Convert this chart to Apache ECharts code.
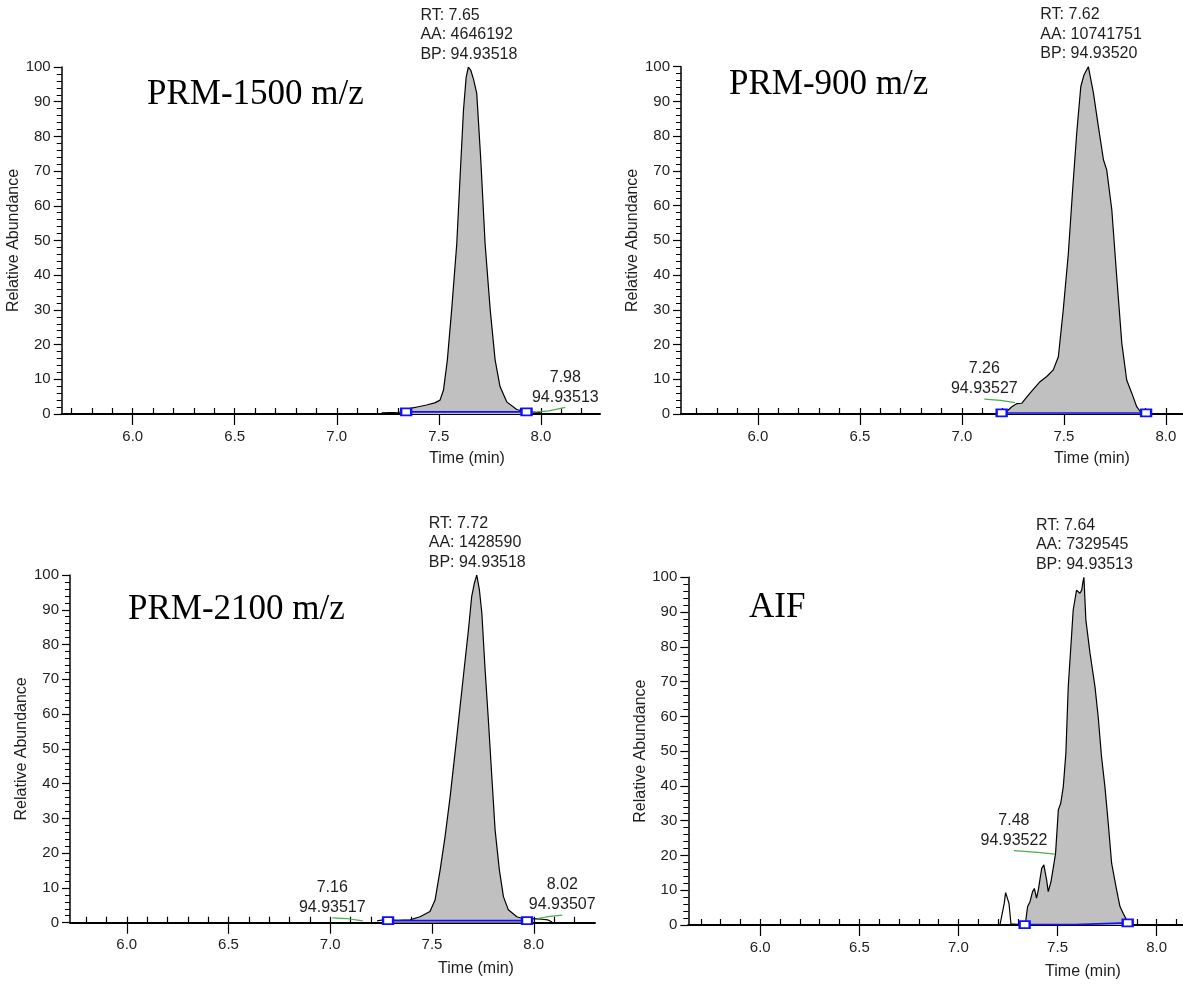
<!DOCTYPE html>
<html><head><meta charset="utf-8">
<script src="https://cdn.jsdelivr.net/npm/echarts@6/dist/echarts.min.js"></script>
<style>html,body{margin:0;padding:0;background:#fff}#c{width:1183px;height:986px}</style>
</head><body><div id="c"></div>
<script>
// ---------- tick labels ----------
const xTickLabels = [6.0, 6.5, 7.0, 7.5, 8.0];
const xMinorTicks = [5.7, 5.8, 5.9, 6.0, 6.1, 6.2, 6.3, 6.4, 6.5, 6.6, 6.7, 6.8, 6.9, 7.0, 7.1, 7.2, 7.3, 7.4, 7.5, 7.6, 7.7, 7.8, 7.9, 8.0, 8.1, 8.2];
const yAxisName = 'Relative Abundance';
const xAxisName = 'Time (min)';

// ---------- Panel 1: PRM-1500 m/z ----------
const p1Title = 'PRM-1500 m/z';
const p1Time  = [7.22, 7.26, 7.30, 7.335, 7.36, 7.40, 7.44, 7.48, 7.506, 7.523, 7.542, 7.563, 7.588, 7.604, 7.621, 7.634, 7.645, 7.657, 7.67, 7.686, 7.706, 7.727, 7.752, 7.776, 7.80, 7.833, 7.882, 7.923, 7.95, 7.98, 8.00];
const p1Abund = [0.3, 0.4, 0.5, 0.6, 1.6, 2.1, 2.6, 3.2, 4.0, 6.9, 15.6, 30, 49, 68, 87.6, 97, 100, 99, 96.5, 92.4, 73, 49, 30, 15.6, 7.9, 3.5, 1.3, 0.7, 0.6, 0.5, 0.3];
const p1PeakInfo = ['RT: 7.65', 'AA: 4646192', 'BP: 94.93518'];
const p1BaseTime  = [7.34, 7.93];
const p1BaseAbund = [0.6, 0.6];
const p1Flags = [
  { time: [7.98, 8.04, 8.12], abund: [0.6, 0.9, 1.9], labelAt: 2, text: ['7.98', '94.93513'] }
];

// ---------- Panel 2: PRM-900 m/z ----------
const p2Title = 'PRM-900 m/z';
const p2Time  = [7.20, 7.225, 7.245, 7.27, 7.294, 7.334, 7.383, 7.416, 7.448, 7.473, 7.497, 7.522, 7.544, 7.563, 7.583, 7.599, 7.62, 7.645, 7.669, 7.694, 7.71, 7.735, 7.759, 7.784, 7.808, 7.833, 7.857, 7.877, 7.895, 7.91];
const p2Abund = [0.3, 1.0, 2.1, 3.0, 3.1, 6.0, 9.3, 10.8, 12.7, 16.5, 30, 46.3, 65.5, 80.9, 94.3, 97.7, 100, 92.4, 82.8, 73.2, 70.3, 58.8, 39.6, 20.4, 9.8, 6.0, 2.1, 0.5, 0.3, 0.2];
const p2PeakInfo = ['RT: 7.62', 'AA: 10741751', 'BP: 94.93520'];
const p2BaseTime  = [7.195, 7.903];
const p2BaseAbund = [0.3, 0.3];
const p2Flags = [
  { time: [7.11, 7.19, 7.26], abund: [4.3, 3.9, 3.3], labelAt: 0, text: ['7.26', '94.93527'] }
];

// ---------- Panel 3: PRM-2100 m/z ----------
const p3Title = 'PRM-2100 m/z';
const p3Time  = [7.23, 7.26, 7.284, 7.33, 7.392, 7.441, 7.49, 7.515, 7.54, 7.564, 7.589, 7.622, 7.654, 7.679, 7.695, 7.708, 7.72, 7.733, 7.745, 7.761, 7.777, 7.794, 7.81, 7.831, 7.851, 7.875, 7.917, 7.957, 7.98, 8.04, 8.07, 8.09];
const p3Abund = [0.5, 0.8, 0.8, 0.7, 0.8, 1.7, 3.2, 6.5, 15.2, 24.7, 36.2, 53.5, 70.8, 84.2, 93.8, 97.6, 100, 95.7, 89, 72.7, 58.3, 42, 26.7, 15.2, 7.5, 3.7, 1.7, 1.0, 1.2, 1.0, 0.8, 0.2];
const p3PeakInfo = ['RT: 7.72', 'AA: 1428590', 'BP: 94.93518'];
const p3BaseTime  = [7.284, 7.967];
const p3BaseAbund = [0.6, 0.6];
const p3Flags = [
  { time: [7.01, 7.08, 7.16], abund: [1.4, 1.2, 0.5], labelAt: 0, text: ['7.16', '94.93517'] },
  { time: [8.02, 8.08, 8.14], abund: [1.2, 1.8, 2.2], labelAt: 2, text: ['8.02', '94.93507'] }
];

// ---------- Panel 4: AIF ----------
const p4Title = 'AIF';
const p4Time  = [7.21, 7.218, 7.231, 7.238, 7.248, 7.255, 7.265, 7.30, 7.334, 7.34, 7.349, 7.361, 7.374, 7.383, 7.394, 7.403, 7.42, 7.431, 7.445, 7.453, 7.467, 7.482, 7.49, 7.504, 7.516, 7.529, 7.542, 7.554, 7.566, 7.579, 7.596, 7.604, 7.613, 7.622, 7.627, 7.633, 7.643, 7.664, 7.689, 7.705, 7.722, 7.739, 7.756, 7.773, 7.798, 7.815, 7.831, 7.849, 7.862, 7.874];
const p4Abund = [0.2, 0.3, 6.2, 9.3, 9.3, 6.2, 0.3, 0.2, 0.3, 1.4, 5.3, 6.7, 9.6, 10.5, 7.7, 10.1, 16.3, 17.3, 12.9, 9.6, 12.5, 17.7, 20.6, 33.1, 35, 39.8, 49.4, 68.5, 79, 90.6, 96.3, 96.8, 95.4, 96.3, 98.3, 100, 87.7, 78.1, 68.5, 59.9, 48.4, 39.8, 29.2, 17.7, 10.1, 5.3, 3.4, 1.4, 0.6, 0.3];
const p4PeakInfo = ['RT: 7.64', 'AA: 7329545', 'BP: 94.93513'];
const p4BaseTime  = [7.334, 7.59, 7.60, 7.854];
const p4BaseAbund = [0.1, 0.1, 0.5, 0.6];
const p4Flags = [
  { time: [7.28, 7.40, 7.487], abund: [21.4, 20.9, 20.4], labelAt: 0, text: ['7.48', '94.93522'] }
];

// ---------- layout (positions / styles only) ----------
const panels = [
  { title: p1Title, time: p1Time, abund: p1Abund, info: p1PeakInfo, baseT: p1BaseTime, baseA: p1BaseAbund, flags: p1Flags,
    grid: { left: 61.7, top: 67, width: 538.3, height: 347 }, xmin: 5.652, xmax: 8.29, titlePos: [147, 95], timePos: [467, 459] },
  { title: p2Title, time: p2Time, abund: p2Abund, info: p2PeakInfo, baseT: p2BaseTime, baseA: p2BaseAbund, flags: p2Flags,
    grid: { left: 681, top: 66.7, width: 502, height: 347.3 }, xmin: 5.623, xmax: 8.084, titlePos: [729, 85], timePos: [1092, 459] },
  { title: p3Title, time: p3Time, abund: p3Abund, info: p3PeakInfo, baseT: p3BaseTime, baseA: p3BaseAbund, flags: p3Flags,
    grid: { left: 70, top: 575, width: 525, height: 347.7 }, xmin: 5.721, xmax: 8.301, titlePos: [128, 610], timePos: [476, 969] },
  { title: p4Title, time: p4Time, abund: p4Abund, info: p4PeakInfo, baseT: p4BaseTime, baseA: p4BaseAbund, flags: p4Flags,
    grid: { left: 688.3, top: 577.3, width: 494.7, height: 347.7 }, xmin: 5.637, xmax: 8.133, titlePos: [749, 608], timePos: [1083, 972] }
];

const SANS = '"Liberation Sans", Arial, sans-serif';
const SERIF = '"Liberation Serif", "Times New Roman", serif';
const TXT = '#1e1e1e';

const grids = [], xAxes = [], yAxes = [], series = [], graphics = [];

panels.forEach((p, i) => {
  grids.push(Object.assign({ outerBoundsMode: 'none', containLabel: false }, p.grid));
  const inRange = v => v >= p.xmin - 1e-9 && v <= p.xmax + 1e-9;
  xAxes.push({
    type: 'value', gridIndex: i, min: p.xmin, max: p.xmax,
    axisLine: { show: true, onZero: false, lineStyle: { color: '#000', width: 2 } },
    axisTick: { show: true, length: 11, customValues: xTickLabels.filter(inRange), lineStyle: { color: '#000', width: 1.2 } },
    axisLabel: { show: true, customValues: xTickLabels.filter(inRange), margin: 15, fontSize: 15, fontFamily: SANS, color: TXT,
                 formatter: v => Number(v).toFixed(1) },
    splitLine: { show: false }
  });
  xAxes.push({
    type: 'value', gridIndex: i, min: p.xmin, max: p.xmax,
    axisLine: { show: false },
    axisTick: { show: true, length: 6, customValues: xMinorTicks.filter(inRange), lineStyle: { color: '#000', width: 1.2 } },
    axisLabel: { show: false },
    splitLine: { show: false }
  });
  yAxes.push({
    type: 'value', gridIndex: i, min: 0, max: 100, interval: 10,
    name: yAxisName, nameLocation: 'middle', nameGap: 38,
    nameTextStyle: { fontSize: 16, fontFamily: SANS, color: TXT },
    axisLine: { show: true, lineStyle: { color: '#000', width: 1.5 } },
    axisTick: { show: true, length: 8, lineStyle: { color: '#000', width: 1.2 } },
    minorTick: { show: true, splitNumber: 5, length: 5, lineStyle: { color: '#000', width: 1 } },
    axisLabel: { margin: 11, fontSize: 15, fontFamily: SANS, color: TXT },
    splitLine: { show: false }
  });

  const pts = p.time.map((t, k) => [t, p.abund[k]]);
  const fillPts = pts.filter(d => d[0] >= p.baseT[0] - 1e-9 && d[0] <= p.baseT[p.baseT.length - 1] + 1e-9);
  let maxIdx = 0;
  p.abund.forEach((v, k) => { if (v > p.abund[maxIdx]) maxIdx = k; });

  series.push({
    type: 'line', xAxisIndex: 2 * i, yAxisIndex: i, data: fillPts, silent: true,
    symbol: 'none', lineStyle: { width: 0, opacity: 0 },
    areaStyle: { color: '#c0c0c0', opacity: 1, origin: 'start' }, z: 1, animation: false
  });
  series.push({
    type: 'line', xAxisIndex: 2 * i, yAxisIndex: i, data: pts, silent: true,
    symbol: 'none', lineStyle: { color: '#000', width: 1.2 }, z: 3, animation: false,
    markPoint: {
      silent: true, animation: false,
      data: [{
        coord: [p.time[maxIdx], p.abund[maxIdx]], symbol: 'circle', symbolSize: 0,
        label: { show: true, position: 'top', distance: 3, align: 'left', offset: [-48, 0],
                 formatter: p.info.join('\n'), fontSize: 16, lineHeight: 19.5, fontFamily: SANS, color: TXT }
      }]
    }
  });
  series.push({
    type: 'line', xAxisIndex: 2 * i, yAxisIndex: i, silent: true, z: 4, animation: false,
    data: p.baseT.map((t, k) => {
      const edge = (k === 0 || k === p.baseT.length - 1);
      return { value: [t, p.baseA[k]], symbol: edge ? 'emptyRect' : 'none' };
    }),
    symbolSize: [10, 7], showAllSymbol: true,
    itemStyle: { color: '#1010ff', borderWidth: 1.3 },
    lineStyle: { color: '#1010ff', width: 1.6 }
  });
  p.flags.forEach(f => {
    series.push({
      type: 'line', xAxisIndex: 2 * i, yAxisIndex: i, silent: true, z: 4, animation: false,
      data: f.time.map((t, k) => [t, f.abund[k]]), symbol: 'none',
      lineStyle: { color: '#4cae4c', width: 1.2 },
      markPoint: {
        silent: true, animation: false,
        data: [{
          coord: [f.time[f.labelAt], f.abund[f.labelAt]], symbol: 'circle', symbolSize: 0,
          label: { show: true, position: 'top', distance: 0, formatter: f.text.join('\n'),
                   fontSize: 16, lineHeight: 20, fontFamily: SANS, color: TXT }
        }]
      }
    });
  });

  graphics.push({
    type: 'text', x: p.titlePos[0], y: p.titlePos[1], silent: true,
    style: { text: p.title, font: '35px ' + SERIF, fill: '#000', textAlign: 'left', textVerticalAlign: 'middle' }
  });
  graphics.push({
    type: 'text', x: p.timePos[0], y: p.timePos[1], silent: true,
    style: { text: xAxisName, font: '16px ' + SANS, fill: TXT, textAlign: 'center', textVerticalAlign: 'middle' }
  });
});

const chart = echarts.init(document.getElementById('c'), null, { renderer: 'canvas' });
chart.setOption({
  backgroundColor: '#fff',
  animation: false,
  grid: grids, xAxis: xAxes, yAxis: yAxes, series: series, graphic: graphics
});
</script>
</body></html>
